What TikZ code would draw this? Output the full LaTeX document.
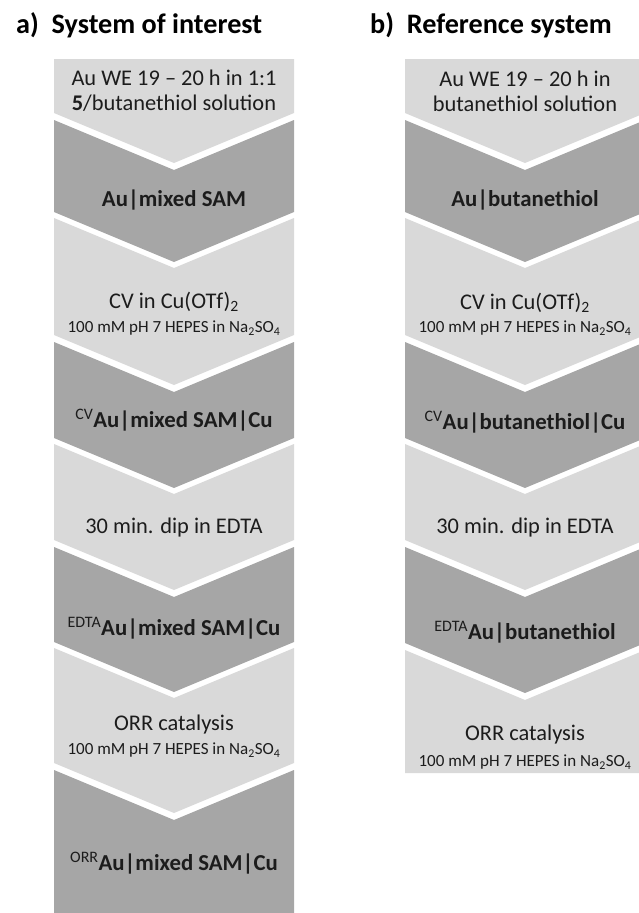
\documentclass[tikz,border=0pt]{standalone}
\usepackage{fontspec}
\setmainfont{Carlito}
\usetikzlibrary{positioning}
\definecolor{Pale}{HTML}{D9D9D9}
\definecolor{Shade}{HTML}{A6A6A6}
\definecolor{Ink}{HTML}{1C1C1C}

\begin{document}
\begin{tikzpicture}[
  x=1pt,y=-1pt,
  steptext/.style={align=center,text=Ink,inner sep=0pt,font=\fontsize{22.4}{25}\selectfont},
  statetext/.style={align=center,text=Ink,inner sep=0pt,font=\bfseries\fontsize{22.8}{25}\selectfont},
  notetext/.style={align=center,text=Ink,inner sep=0pt,font=\fontsize{17}{19}\selectfont},
  heading/.style={anchor=base west,inner sep=0pt,font=\bfseries\fontsize{28.2}{32}\selectfont}
]
\useasboundingbox (0,0) rectangle (639,913);

% chevron blocks: left x / top / bottom / top notch / bottom point / colour
\foreach \xl/\yt/\yb/\nt/\nb/\tone in {
  54/59/113/0/50/Pale, 54/120/212/50/50/Shade, 54/218/335/50/50/Pale, 54/342/438/50/50/Shade,
  54/444/540/50/50/Pale, 54/547/642/50/50/Shade, 54/648/763/50/50/Pale, 54/770/913/50/0/Shade,
  405/59/113/0/50/Pale, 405/120/212/50/50/Shade, 405/218/335/50/50/Pale, 405/342/438/50/50/Shade,
  405/444/540/50/50/Pale, 405/547/643/50/50/Shade, 405/650/773/50/0/Pale}
  \fill[fill=\tone] (\xl,\yt) -- (\xl+120,\yt+\nt) -- (\xl+240,\yt) -- (\xl+240,\yb)
    -- (\xl+120,\yb+\nb) -- (\xl,\yb) -- cycle;

\node[heading] (heada) at (16,33) {a)~ System of interest};
\node[heading] (headb) at (370,33) {b)~ Reference system};

% system of interest
\node[steptext] (a1) at (174,91) {Au WE 19 -- 20 h in 1:1\\\textbf{5}/butanethiol solution};
\node[statetext] (a2) at (174,200) {Au|mixed SAM};
\node[steptext] (a3) at (174,302) {CV in Cu(OTf)\textsubscript{2}};
\node[notetext] (a3n) at (174,328) {100 mM pH 7 HEPES in Na\textsubscript{2}SO\textsubscript{4}};
\node[statetext] (a4) at (174,420) {\textsuperscript{\mdseries CV}Au|mixed SAM|Cu};
\node[steptext] (a5) at (174,528) {30 min. dip in EDTA};
\node[statetext] (a6) at (174,628) {\textsuperscript{\mdseries EDTA}Au|mixed SAM|Cu};
\node[steptext] (a7) at (174,725) {ORR catalysis};
\node[notetext] (a7n) at (174,750) {100 mM pH 7 HEPES in Na\textsubscript{2}SO\textsubscript{4}};
\node[statetext] (a8) at (174,863) {\textsuperscript{\mdseries ORR}Au|mixed SAM|Cu};

% reference system
\node[steptext] (b1) at (525,91) {Au WE 19 -- 20 h in\\butanethiol solution};
\node[statetext] (b2) at (525,200) {Au|butanethiol};
\node[steptext] (b3) at (525,303) {CV in Cu(OTf)\textsubscript{2}};
\node[notetext] (b3n) at (525,328) {100 mM pH 7 HEPES in Na\textsubscript{2}SO\textsubscript{4}};
\node[statetext] (b4) at (525,422) {\textsuperscript{\mdseries CV}Au|butanethiol|Cu};
\node[steptext] (b5) at (525,528) {30 min. dip in EDTA};
\node[statetext] (b6) at (525,632) {\textsuperscript{\mdseries EDTA}Au|butanethiol};
\node[steptext] (b7) at (525,735) {ORR catalysis};
\node[notetext] (b7n) at (525,762) {100 mM pH 7 HEPES in Na\textsubscript{2}SO\textsubscript{4}};
\end{tikzpicture}
\end{document}
